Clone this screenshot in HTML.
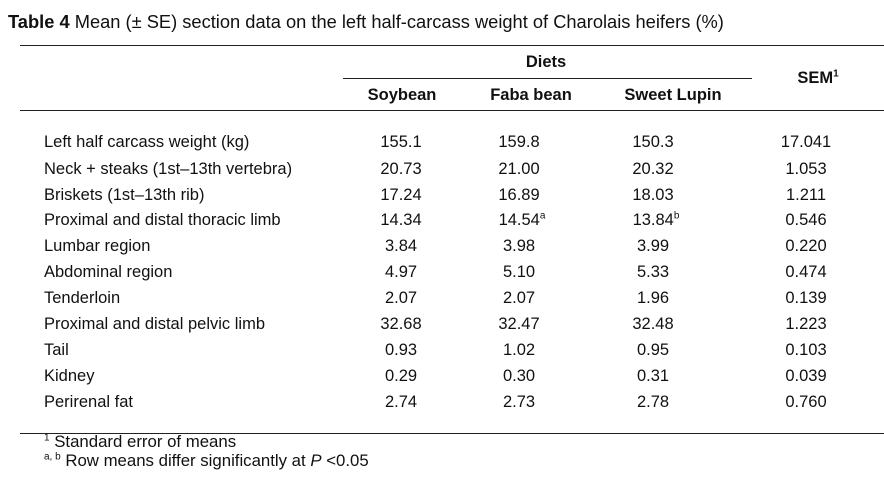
<!DOCTYPE html>
<html><head><meta charset="utf-8"><style>
body{margin:0;width:884px;height:479px;background:#fff;position:relative;overflow:hidden;font-family:"Liberation Sans",Arial,sans-serif;color:#111}
.a{position:absolute;white-space:nowrap}
.t{font-size:16.5px;line-height:17px}
.c{transform:translateX(-50%)}
.h{font-weight:bold;font-size:16.5px}
.l{position:absolute;background:#222;height:1px}
sup{font-size:10px;line-height:0}
</style></head><body>
<div class="a" style="left:8px;top:11px;font-size:18.3px"><b>Table 4</b> Mean (± SE) section data on the left half-carcass weight of Charolais heifers (%)</div>
<div class="l" style="left:20px;top:45px;width:864px"></div>
<div class="l" style="left:343px;top:78px;width:409px"></div>
<div class="l" style="left:20px;top:110px;width:864px"></div>
<div class="l" style="left:20px;top:433px;width:864px"></div>
<div class="a h c" style="left:546px;top:53px">Diets</div>
<div class="a h c" style="left:402px;top:86px">Soybean</div>
<div class="a h c" style="left:531px;top:86px">Faba bean</div>
<div class="a h c" style="left:673px;top:86px">Sweet Lupin</div>
<div class="a h c" style="left:818px;top:69px">SEM<sup>1</sup></div>
<div id="rows"></div>
<div class="a" style="left:44px;top:432px;font-size:16.8px"><sup>1</sup> Standard error of means</div>
<div class="a" style="left:44px;top:451px;font-size:16.8px"><sup>a, b</sup> Row means differ significantly at <i>P</i> &lt;0.05</div>
<script>
const labels=["Left half carcass weight (kg)","Neck + steaks (1st–13th vertebra)","Briskets (1st–13th rib)","Proximal and distal thoracic limb","Lumbar region","Abdominal region","Tenderloin","Proximal and distal pelvic limb","Tail","Kidney","Perirenal fat"];
const soybean=["155.1","20.73","17.24","14.34","3.84","4.97","2.07","32.68","0.93","0.29","2.74"];
const faba=["159.8","21.00","16.89","14.54<sup>a</sup>","3.98","5.10","2.07","32.47","1.02","0.30","2.73"];
const lupin=["150.3","20.32","18.03","13.84<sup>b</sup>","3.99","5.33","1.96","32.48","0.95","0.31","2.78"];
const sem=["17.041","1.053","1.211","0.546","0.220","0.474","0.139","1.223","0.103","0.039","0.760"];
const root=document.getElementById('rows');
const tops=[134,161,187,212,238,264,290,316,342,368,394];
labels.forEach((lab,i)=>{
  const y=tops[i];
  const mk=(html,x,center,name)=>{const d=document.createElement('div');d.className='a t'+(center?' c':'');d.style.left=x+'px';d.style.top=y+'px';d.innerHTML=html;
    
    
    root.appendChild(d);};
  mk(lab,44,false,'row-label');
  mk(soybean[i],401,true,'soybean-value');
  mk(faba[i],519+(faba[i].includes('sup')?3:0),true,'faba-bean-value');
  mk(lupin[i],653+(lupin[i].includes('sup')?3:0),true,'sweet-lupin-value');
  mk(sem[i],806,true,'sem-value');
});
</script>
</body></html>
